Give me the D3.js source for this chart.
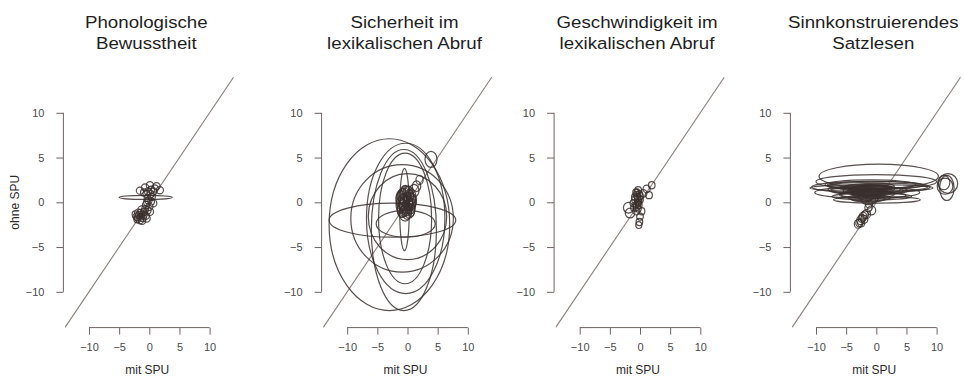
<!DOCTYPE html>
<html>
<head>
<meta charset="utf-8">
<script src="https://cdn.jsdelivr.net/npm/d3@7"></script>
<style>
  body { margin: 0; background: #fff; }
  text { font-family: "Liberation Sans", Arial, sans-serif; }
</style>
</head>
<body>
<div id="chart"></div>
<script>
// panel titles (two lines each)
var titles = [
  ["Phonologische", "Bewusstheit"],
  ["Sicherheit im", "lexikalischen Abruf"],
  ["Geschwindigkeit im", "lexikalischen Abruf"],
  ["Sinnkonstruierendes", "Satzlesen"]
];
var tickValues = [-10, -5, 0, 5, 10];
var xLabel = "mit SPU", yLabel = "ohne SPU";

// ellipses: [center mit SPU, center ohne SPU, half width, half height]
var phonEllipses = [
  [-0.6, 0.55, 4.4, 0.22],
  [-1.55, 1.3, 0.6, 0.4], [-0.7, 1.65, 0.6, 0.4], [0.1, 1.9, 0.6, 0.4], [1.2, 1.8, 0.6, 0.4],
  [1.75, 1.35, 0.6, 0.4], [0.65, 1.2, 0.6, 0.42], [-0.45, 0.95, 0.6, 0.42], [0.4, 0.6, 0.6, 0.4],
  [-0.15, 0.2, 0.6, 0.42], [-0.55, -0.3, 0.6, 0.42], [0.0, -0.5, 0.6, 0.42], [-1.25, -0.85, 0.65, 0.45],
  [-1.8, -1.2, 0.65, 0.45], [-1.0, -1.4, 0.65, 0.45], [-2.1, -1.6, 0.6, 0.42], [-1.55, -1.95, 0.65, 0.45],
  [-0.45, -1.8, 0.6, 0.42], [0.1, -1.05, 0.6, 0.42], [-0.7, -0.8, 0.6, 0.42], [0.65, -0.1, 0.6, 0.42],
  [-1.4, -1.6, 0.6, 0.4], [-2.0, -1.9, 0.55, 0.4], [-0.9, -1.1, 0.6, 0.42], [-0.3, 0.5, 0.55, 0.4],
  [0.3, 1.4, 0.55, 0.4], [-1.7, -1.45, 0.6, 0.42], [-1.2, -2.05, 0.6, 0.42],
  [-0.2, 1.2, 0.6, 0.42], [0.2, 0.9, 0.6, 0.42], [-0.9, 1.1, 0.55, 0.4], [0.9, 1.55, 0.6, 0.4],
  [-0.3, -0.9, 0.6, 0.42], [-1.1, -1.75, 0.6, 0.42], [-1.9, -1.7, 0.6, 0.42], [-0.6, -1.5, 0.6, 0.42],
  [0.3, 0.1, 0.55, 0.4], [-0.4, 0.0, 0.55, 0.4], [-1.45, -1.2, 0.6, 0.42], [-2.3, -1.35, 0.55, 0.4]
];
var sicherEllipses = [
  [-3.0, -2.5, 10.0, 9.6], [-2.5, -2.0, 10.5, 1.9], [-0.9, -1.8, 8.5, 6.0],
  [-0.3, -1.8, 6.5, 8.4], [-0.6, -3.1, 5.4, 9.0], [-0.4, -1.8, 4.4, 7.3],
  [0.0, -1.6, 6.5, 4.8], [-0.3, -2.4, 4.9, 1.5], [-0.5, -0.8, 0.8, 4.6],
  [3.9, 4.8, 1.0, 0.9], [2.0, 2.5, 0.6, 0.5], [1.5, 1.8, 0.7, 0.6], [1.1, 1.3, 0.8, 0.7],
  [-0.5, 0.6, 1.0, 1.0], [0.1, 0.9, 0.9, 0.9], [-1.0, 0.2, 0.9, 1.1], [0.4, 0.1, 1.0, 1.0],
  [-0.2, -0.3, 1.1, 1.2], [-0.8, -0.7, 0.9, 1.0], [0.3, -0.8, 0.9, 1.0], [-0.4, -1.2, 1.0, 0.9],
  [-1.1, -0.3, 0.8, 0.9], [0.6, 0.6, 0.8, 0.9], [-0.3, 1.0, 0.9, 0.8], [0.0, -0.1, 0.8, 0.8],
  [-0.7, 0.0, 0.9, 0.9], [0.5, -0.4, 0.8, 0.9], [-0.5, -0.4, 0.8, 0.8], [0.2, 0.4, 0.9, 1.0],
  [-0.9, 0.7, 0.8, 0.8], [-0.1, -1.0, 0.8, 0.9], [0.7, 0.2, 0.8, 0.8],
  [-0.6, 0.3, 0.6, 0.7], [0.0, 0.5, 0.6, 0.6], [-0.3, -0.6, 0.7, 0.7], [0.3, -0.2, 0.6, 0.7],
  [-0.9, -0.2, 0.6, 0.6], [-0.2, 0.2, 0.5, 0.6], [0.4, 0.8, 0.6, 0.6], [-0.6, -1.0, 0.6, 0.6],
  [0.1, -0.6, 0.6, 0.6], [-1.2, 0.5, 0.7, 0.8], [-0.4, 1.3, 0.7, 0.6], [0.6, -0.9, 0.6, 0.7],
  [-0.8, 1.0, 0.6, 0.6], [0.2, 1.2, 0.6, 0.6], [-1.0, -0.9, 0.7, 0.8], [0.8, -0.2, 0.6, 0.6]
];
var geschwEllipses = [
  [1.95, 1.9, 0.55, 0.4], [1.1, 1.5, 0.6, 0.42], [0.55, 1.0, 0.6, 0.42], [1.5, 0.8, 0.55, 0.4],
  [-0.3, 1.35, 0.55, 0.4], [-0.55, 0.8, 0.6, 0.42], [-0.8, 0.3, 0.6, 0.42], [-0.3, 0.2, 0.6, 0.42],
  [-0.55, -0.5, 0.6, 0.42], [-1.1, -0.1, 0.55, 0.4], [-0.6, -1.0, 0.6, 0.42], [0.0, 0.7, 0.55, 0.4],
  [-0.2, -0.3, 0.55, 0.4], [-0.7, 1.1, 0.5, 0.4], [-0.1, 0.95, 0.5, 0.35], [-0.4, -0.1, 0.5, 0.4],
  [-1.9, -0.6, 0.85, 0.6], [-1.65, -1.2, 0.8, 0.55], [0.0, -1.6, 0.55, 0.4], [-0.1, -2.2, 0.55, 0.4],
  [-0.2, -2.55, 0.5, 0.38], [0.3, -1.0, 0.5, 0.4], [-1.0, -0.6, 0.55, 0.4],
  [-0.4, 0.55, 0.5, 0.4], [-0.7, -0.3, 0.5, 0.38], [-0.2, 0.0, 0.5, 0.38], [-0.5, 1.1, 0.5, 0.4],
  [-0.9, 0.6, 0.5, 0.38], [-0.3, -0.7, 0.5, 0.4], [0.1, 0.3, 0.45, 0.38]
];
var satzEllipses = [
  [0.4, 2.9, 9.9, 1.36], [0.0, 2.3, 10.0, 0.8], [-0.9, 1.7, 9.8, 0.65], [-0.8, 1.6, 10.2, 0.37],
  [-1.5, 1.1, 8.7, 0.65], [0.1, 0.28, 7.2, 0.37], [-0.75, 0.65, 6.6, 0.37], [-1.0, 2.0, 7.5, 0.5],
  [-2.0, 1.4, 6.0, 0.45], [-0.5, 1.3, 5.0, 0.5], [-1.5, 0.9, 4.5, 0.4], [-2.5, 1.8, 5.5, 0.4],
  [-0.2, 1.9, 8.0, 0.45], [-1.2, 0.5, 3.5, 0.35], [-1.8, 1.2, 3.0, 0.45], [-0.8, 1.5, 3.8, 0.4],
  [-1.0, 1.0, 2.2, 0.4], [-1.6, 0.7, 1.5, 0.45], [-0.4, 0.9, 1.8, 0.5],
  [-1.2, 1.3, 6.5, 0.4], [-0.6, 0.8, 5.5, 0.35], [-1.9, 1.6, 4.2, 0.35], [-1.4, 0.4, 2.8, 0.35],
  [-0.9, 1.2, 2.5, 0.45], [-2.2, 1.0, 2.0, 0.4], [-0.3, 1.6, 3.0, 0.35], [1.5, 1.7, 7.0, 0.45],
  [-1.3, 0.2, 1.2, 0.45], [-0.7, 0.4, 1.0, 0.5], [-1.8, 0.5, 1.1, 0.45],
  [11.9, 2.1, 1.6, 1.1], [11.4, 1.8, 1.3, 0.9], [11.7, 1.6, 1.2, 1.4], [11.2, 2.2, 1.0, 0.8],
  [-0.8, -0.9, 0.7, 0.5], [-1.3, -0.6, 0.6, 0.45], [-1.6, -1.3, 0.65, 0.5], [-2.2, -1.6, 0.65, 0.5],
  [-2.6, -2.0, 0.65, 0.5], [-3.0, -2.4, 0.65, 0.5], [-2.5, -2.3, 0.6, 0.45], [-1.2, -0.2, 0.6, 0.45],
  [-2.0, -1.9, 0.6, 0.45], [-2.8, -2.3, 0.6, 0.45], [-1.9, -1.4, 0.6, 0.45], [-2.4, -1.8, 0.6, 0.45]
];
var panels = [phonEllipses, sicherEllipses, geschwEllipses, satzEllipses];

// pixel position of data 0 on x, per panel (panels are not evenly spaced)
var panelX0 = [149.3, 407.5, 640, 876.3];
var y0 = 202.3, unitX = 6.03, unitY = 8.95;
var W = 28 * unitX, H = 28 * unitY;

var svg = d3.select("#chart")
  .append("svg")
    .attr("width", 964)
    .attr("height", 380);

panels.forEach(function(ellipses, i) {
  var left = panelX0[i] - 14 * unitX,
      top = y0 - 14 * unitY;

  var g = svg.append("g")
      .attr("transform", "translate(" + left + "," + top + ")");

  var x = d3.scaleLinear().domain([-14, 14]).range([0, W]);
  var y = d3.scaleLinear().domain([-14, 14]).range([H, 0]);

  // titles
  titles[i].forEach(function(line, k) {
    svg.append("text")
        .attr("transform", "translate(" + (panelX0[i] - 3) + "," + (27.5 + k * 21) + ") scale(1.1,1)")
        .attr("text-anchor", "middle")
        .style("font-size", "17px")
        .style("fill", "#1e1e1e")
        .text(line);
  });

  g.append("clipPath").attr("id", "clip" + i)
    .append("rect").attr("width", W).attr("height", H);

  // identity line
  g.append("line")
      .attr("clip-path", "url(#clip" + i + ")")
      .attr("x1", x(-14)).attr("y1", y(-14))
      .attr("x2", x(14)).attr("y2", y(14))
      .style("stroke", "#8d7f7a")
      .style("stroke-width", 1.1);

  g.selectAll("ellipse")
      .data(ellipses)
      .enter()
      .append("ellipse")
        .attr("cx", function(d) { return x(d[0]); })
        .attr("cy", function(d) { return y(d[1]); })
        .attr("rx", function(d) { return x(d[2]) - x(0); })
        .attr("ry", function(d) { return y(0) - y(d[3]); })
        .style("fill", "none")
        .style("stroke", "#3a302e")
        .style("stroke-opacity", 0.85)
        .style("stroke-width", 1.2);

  // x axis
  var xAxis = g.append("g")
      .attr("transform", "translate(0," + H + ")")
      .call(d3.axisBottom(x).tickValues(tickValues).tickSize(7).tickPadding(9));
  xAxis.select(".domain").remove();
  xAxis.append("line")
      .attr("x1", x(-10)).attr("x2", x(10))
      .attr("stroke", "#6e6360");

  // y axis
  var yAxis = g.append("g")
      .attr("transform", "translate(-1.5,0)")
      .call(d3.axisLeft(y).tickValues(tickValues).tickSize(7).tickPadding(12));
  yAxis.select(".domain").remove();
  yAxis.append("line")
      .attr("y1", y(-10)).attr("y2", y(10))
      .attr("stroke", "#6e6360");

  [xAxis, yAxis].forEach(function(ax) {
    ax.selectAll(".tick line").attr("stroke", "#6e6360");
    ax.selectAll(".tick text")
        .style("font-size", "11px")
        .style("fill", "#4a4a4a")
        .style("font-family", "'Liberation Sans', Arial, sans-serif");
  });

  g.append("text")
      .attr("x", W / 2 - 2)
      .attr("y", H + 46)
      .attr("text-anchor", "middle")
      .style("font-size", "12px")
      .style("fill", "#2a2a2a")
      .text(xLabel);

  if (i === 0) {
    svg.append("text")
        .attr("transform", "translate(19," + y0 + ") rotate(-90)")
        .attr("text-anchor", "middle")
        .style("font-size", "12px")
        .style("fill", "#2a2a2a")
        .text(yLabel);
  }
});
</script>
</body>
</html>
